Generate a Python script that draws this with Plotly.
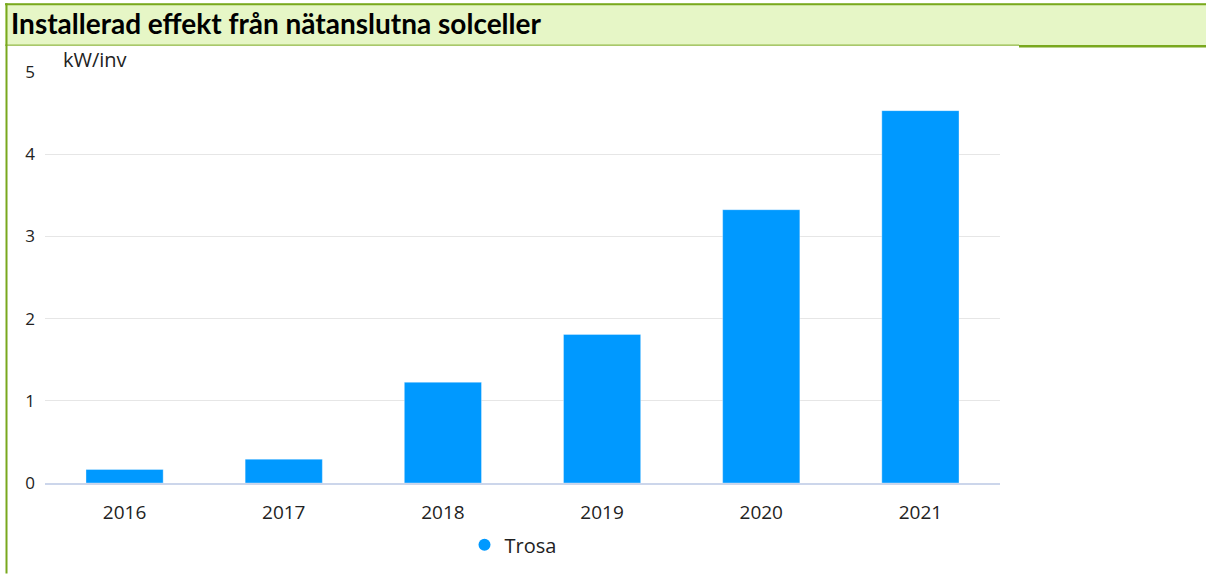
import plotly.graph_objects as go

years = ["2016", "2017", "2018", "2019", "2020", "2021"]
values = [0.165, 0.29, 1.226, 1.808, 3.325, 4.53]
series_name = "Trosa"
title_text = "Installerad effekt från nätanslutna solceller"
unit_text = "kW/inv"

W, H = 1206, 576
L, R, T, B = 45, 206, 72, 91
PW, PH = W - L - R, H - T - B

def px(x):
    return (x - L) / PW

def py(y):
    return (H - B - y) / PH

GREEN = "#79a81e"
FILL = "#e6f6c6"
BAR = "#0099ff"

fig = go.Figure()
fig.add_trace(go.Bar(
    x=years, y=values, name=series_name, showlegend=False,
    marker=dict(color=BAR, line=dict(color="rgba(255,255,255,0.35)", width=1)),
))
fig.add_trace(go.Scatter(
    x=[None], y=[None], mode="markers", name=series_name,
    marker=dict(symbol="circle", size=18, color=BAR),
))

shapes = [
    dict(type="rect", xref="paper", yref="paper", x0=px(5), x1=px(1206), y0=py(45), y1=py(3),
         fillcolor=FILL, line=dict(width=0), layer="below"),
    dict(type="line", xref="paper", yref="paper", x0=px(5), x1=px(1206), y0=py(4), y1=py(4),
         line=dict(color=GREEN, width=2)),
    dict(type="line", xref="paper", yref="paper", x0=px(5), x1=px(1019), y0=py(45), y1=py(45),
         line=dict(color=GREEN, width=1)),
    dict(type="line", xref="paper", yref="paper", x0=px(1019), x1=px(1206), y0=py(46), y1=py(46),
         line=dict(color=GREEN, width=2.5)),
    dict(type="line", xref="paper", yref="paper", x0=px(6.5), x1=px(6.5), y0=py(3), y1=py(576),
         line=dict(color=GREEN, width=2)),
]

annotations = [
    dict(text="<b>" + title_text + "</b>", xref="paper", yref="paper", x=px(9), y=py(23),
         xanchor="left", yanchor="middle", showarrow=False,
         font=dict(family="Lato, Open Sans, sans-serif", size=28, color="#000000")),
    dict(text=unit_text, xref="paper", yref="paper", x=px(61), y=py(59),
         xanchor="left", yanchor="middle", showarrow=False,
         font=dict(family="Open Sans, sans-serif", size=20, color="#222222")),
]

fig.update_layout(
    width=W, height=H,
    margin=dict(l=L, r=R, t=T, b=B, pad=0),
    paper_bgcolor="white", plot_bgcolor="white",
    bargap=0.515,
    shapes=shapes, annotations=annotations,
    font=dict(family="Open Sans, sans-serif", color="#222222"),
    legend=dict(orientation="h", x=px(513), xanchor="center", y=py(547), yanchor="middle",
                font=dict(size=20, color="#222222"), itemsizing="constant"),
    xaxis=dict(showgrid=False, showline=True, linecolor="#ccd6eb", linewidth=2,
               ticks="", tickfont=dict(size=19, color="#222222"), ticklabelstandoff=11,
               fixedrange=True),
    yaxis=dict(range=[0, 5], dtick=1, showgrid=True, gridcolor="#e6e6e6", gridwidth=1,
               zeroline=False, showline=False, ticks="",
               tickfont=dict(size=17, color="#222222"), ticklabelstandoff=9,
               fixedrange=True),
)

fig.write_html("out.html", config={"displayModeBar": False},
               post_script="document.body.style.margin='0px';")
